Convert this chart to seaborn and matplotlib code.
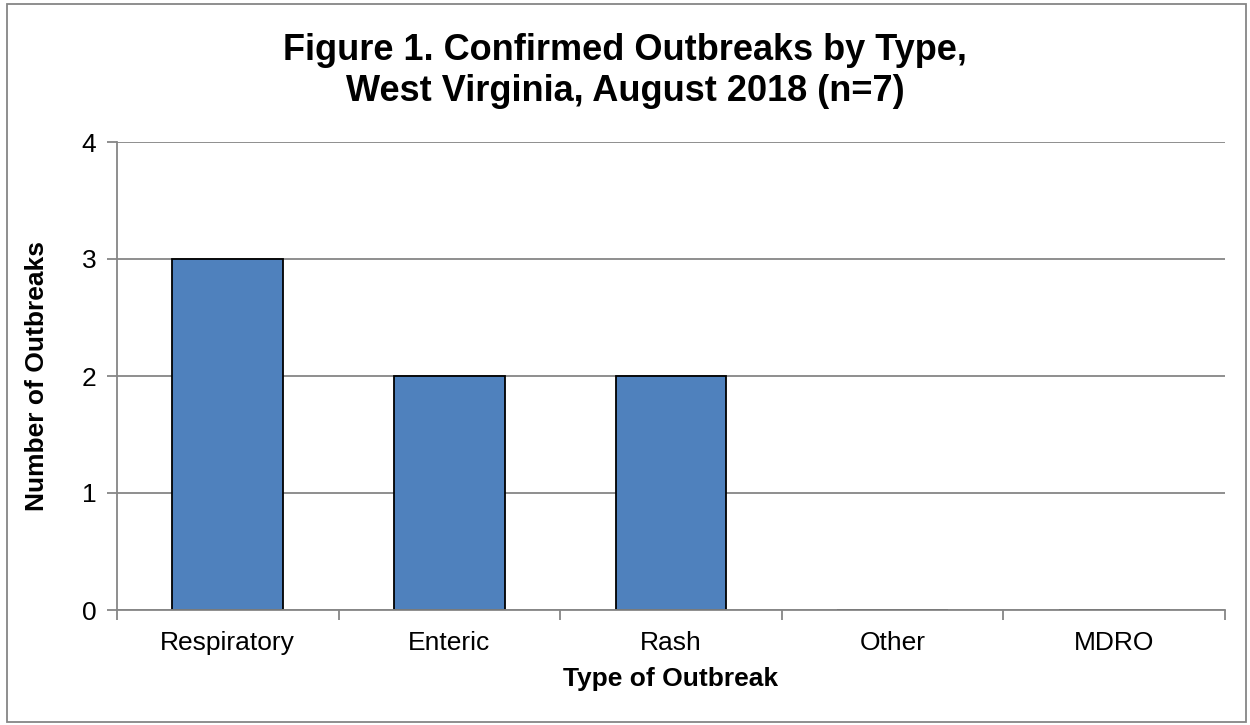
import matplotlib
matplotlib.use("Agg")
import matplotlib.pyplot as plt
import seaborn as sns
import pandas as pd
from matplotlib.patches import Rectangle

categories = ["Respiratory", "Enteric", "Rash", "Other", "MDRO"]
counts = [3, 2, 2, 0, 0]
y_ticks = [0, 1, 2, 3, 4]

sns.set_style("white")
plt.rcParams['font.family'] = ['Liberation Sans', 'DejaVu Sans']
plt.rcParams['text.color'] = 'black'
plt.rcParams['axes.labelcolor'] = 'black'
plt.rcParams['xtick.color'] = 'black'
plt.rcParams['ytick.color'] = 'black'

df = pd.DataFrame({"Type": categories, "Count": counts})

fig = plt.figure(figsize=(12.5, 7.25), dpi=100)
ax = fig.add_axes([117/1250, 1 - 610/725, (1225-117)/1250, (610-142)/725])

sns.barplot(data=df, x="Type", y="Count", ax=ax, color="#4F81BD",
            saturation=1, width=0.5, edgecolor="black", linewidth=1.3)

grid_c = "#868686"
fs = 19
ax.set_ylim(0, 4)
ax.set_xlim(-0.5, len(categories) - 0.5)
ax.set_yticks(y_ticks)
ax.set_yticklabels([str(v) for v in y_ticks], fontsize=fs)
ax.yaxis.grid(True, color=grid_c, linewidth=1.3)
ax.set_axisbelow(True)
ax.tick_params(axis='x', labelsize=fs, length=0, pad=15)
ax.tick_params(axis='y', left=True, length=7, width=1.3, color=grid_c,
               labelcolor='black', pad=8)
ax.set_xticks([i - 0.5 for i in range(len(categories) + 1)], minor=True)
ax.tick_params(axis='x', which='minor', bottom=True, length=7, width=1.3,
               color=grid_c, direction='out')

for s in ["top", "right"]:
    ax.spines[s].set_visible(False)
for s in ["left", "bottom"]:
    ax.spines[s].set_color(grid_c)
    ax.spines[s].set_linewidth(1.3)

ax.set_xlabel("Type of Outbreak", fontsize=fs, fontweight="bold", labelpad=9)
ax.set_ylabel("Number of Outbreaks", fontsize=fs, fontweight="bold", labelpad=23)

fig.suptitle("Figure 1. Confirmed Outbreaks by Type,\nWest Virginia, August 2018 (n=7)",
             fontsize=26, fontweight="bold", x=0.5, y=0.955, va="top", linespacing=1.25)

fig.patches.append(Rectangle((7/1250, 3/725), (1246-7)/1250, (721-3)/725,
                             transform=fig.transFigure, fill=False,
                             edgecolor="#868686", linewidth=1.3))

fig.savefig("out.png", dpi=100)
